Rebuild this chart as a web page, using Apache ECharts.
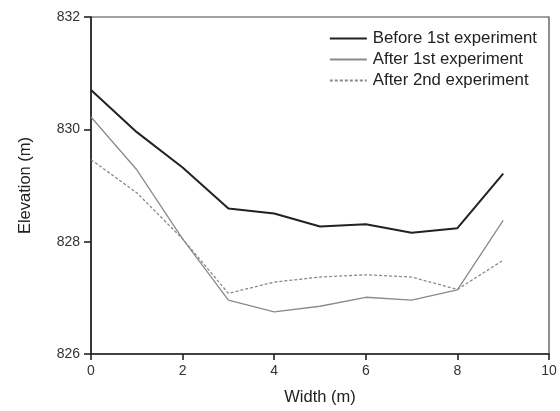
<!DOCTYPE html>
<html>
<head>
<meta charset="utf-8">
<script src="https://cdn.jsdelivr.net/npm/echarts@6/dist/echarts.min.js"></script>
<style>
  html, body { margin: 0; padding: 0; background: #fff; }
  #chart { width: 560px; height: 411px; }
</style>
</head>
<body>
<div id="chart"></div>
<script>
// width positions (m)
const widths = [0, 1, 2, 3, 4, 5, 6, 7, 8, 9];
// elevations (m)
const before1st = [830.70, 829.95, 829.32, 828.59, 828.50, 828.27, 828.31, 828.16, 828.24, 829.21];
const after1st = [830.22, 829.28, 828.05, 826.96, 826.75, 826.85, 827.01, 826.96, 827.14, 828.38];
const after2nd = [829.46, 828.87, 828.05, 827.08, 827.28, 827.37, 827.41, 827.37, 827.15, 827.67];

const seriesNames = ['Before 1st experiment', 'After 1st experiment', 'After 2nd experiment'];

function pairs(vals) {
  return widths.map((w, i) => [w, vals[i]]);
}

const chart = echarts.init(document.getElementById('chart'));
const font = 'Liberation Sans, Arial, sans-serif';

const option = {
  animation: false,
  backgroundColor: '#fff',
  grid: {
    left: 91, right: 11, top: 17, bottom: 55,
    show: true,
    borderColor: '#444',
    borderWidth: 1.2
  },
  legend: {
    orient: 'vertical',
    right: 18,
    top: 25,
    itemWidth: 37,
    itemHeight: 14,
    itemGap: 4,
    itemStyle: { opacity: 0 },
    textStyle: { fontFamily: font, fontSize: 16.8, color: '#222', padding: [0, 0, 0, 1] },
    data: seriesNames
  },
  xAxis: {
    type: 'value',
    min: 0, max: 10, interval: 2,
    name: 'Width (m)',
    nameLocation: 'middle',
    nameGap: 35,
    nameTextStyle: { fontFamily: font, fontSize: 16.5, color: '#222' },
    axisLine: { show: true, lineStyle: { color: '#222', width: 1.6 } },
    axisTick: { show: true, inside: false, length: 6, lineStyle: { color: '#222', width: 1.6 } },
    axisLabel: { fontFamily: font, fontSize: 14, color: '#333', margin: 10 },
    splitLine: { show: false }
  },
  yAxis: {
    type: 'value',
    min: 826, max: 832, interval: 2,
    name: 'Elevation (m)',
    nameLocation: 'middle',
    nameGap: 57,
    nameTextStyle: { fontFamily: font, fontSize: 16.5, color: '#222' },
    axisLine: { show: true, lineStyle: { color: '#222', width: 1.6 } },
    axisTick: { show: true, inside: false, length: 7, lineStyle: { color: '#222', width: 1.6 } },
    axisLabel: { fontFamily: font, fontSize: 14, color: '#333', margin: 11 },
    splitLine: { show: false }
  },
  series: [
    {
      name: seriesNames[0],
      type: 'line',
      symbol: 'none',
      data: pairs(before1st),
      itemStyle: { color: '#222' },
      lineStyle: { color: '#222', width: 2 }
    },
    {
      name: seriesNames[1],
      type: 'line',
      symbol: 'none',
      data: pairs(after1st),
      itemStyle: { color: '#8a8a8a' },
      lineStyle: { color: '#8a8a8a', width: 1.3 }
    },
    {
      name: seriesNames[2],
      type: 'line',
      symbol: 'none',
      data: pairs(after2nd),
      itemStyle: { color: '#8a8a8a' },
      lineStyle: { color: '#8a8a8a', width: 1.3, type: [3, 2] }
    }
  ]
};
chart.setOption(option);
</script>
</body>
</html>
